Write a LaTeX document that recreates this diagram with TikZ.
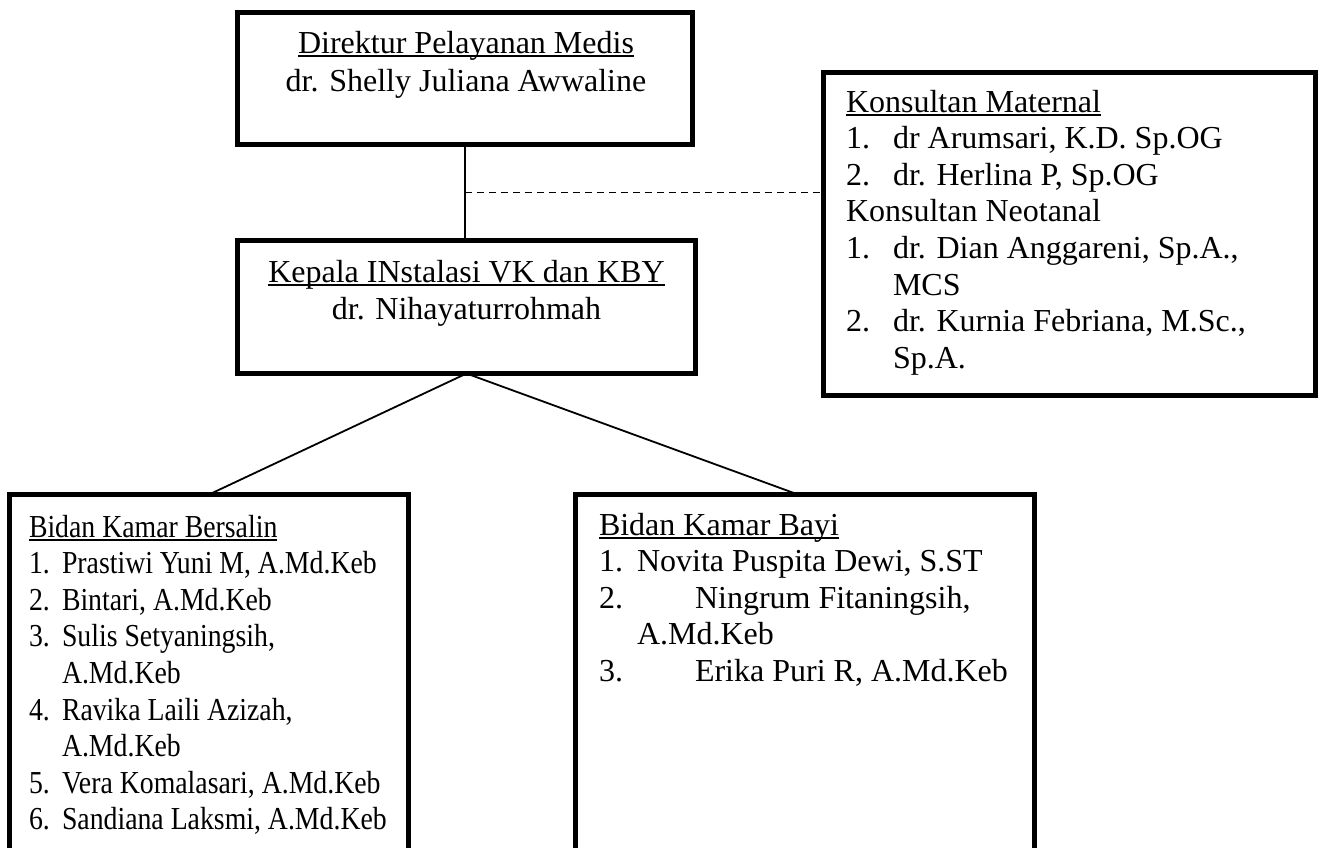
\documentclass[tikz,border=0pt]{standalone}
\usepackage{fontspec}
\setmainfont{Liberation Serif}
\newfontfamily\narrowserif[FakeStretch=0.868]{Liberation Serif}
\usetikzlibrary{calc}
\newcommand\myul[1]{\setbox0\hbox{#1}\rlap{\rule[-4pt]{\wd0}{2pt}}\box0}
\begin{document}
\begin{tikzpicture}[x=1pt,y=-1pt,
  orgbox/.style={draw, rectangle, line width=4.5pt, inner sep=0pt, outer sep=0pt},
  txt/.style={inner sep=0pt, outer sep=0pt, font=\fontsize{32}{36.6}\selectfont},
  ntxt/.style={inner sep=0pt, outer sep=0pt, font=\narrowserif\fontsize{32}{36.6}\selectfont},
  conn/.style={line width=1.8pt},
  dashconn/.style={line width=1.8pt, dash pattern=on 7pt off 5pt}]
\useasboundingbox (0,0) rectangle (1323,847);
\clip (0,0) rectangle (1323,847);

% boxes
\node[orgbox, minimum width=455, minimum height=132] (dir) at (465,78.5) {};
\node[orgbox, minimum width=458, minimum height=133] (kep) at (466.5,307) {};
\node[orgbox, minimum width=492, minimum height=323] (kon) at (1069.5,234) {};
\node[orgbox, minimum width=399, minimum height=420] (bers) at (209,704.5) {};
\node[orgbox, minimum width=459, minimum height=420] (bayi) at (805,704.5) {};

% connectors
\draw[conn] (dir.south) -- (dir.south |- kep.north);
\coordinate (j) at ($(dir.south)!0.5!(dir.south |- kep.north)$);
\draw[dashconn] (j) -- (j -| kon.west);
\draw[conn] (kep.south) -- (bers.north);
\draw[conn] (kep.south) -- ($(bayi.north)+(-7,0)$);

% Direktur
\node[txt, anchor=base] (d1) at (466,53) {\myul{Direktur Pelayanan Medis}};
\node[txt, anchor=base] (d2) at (466,91) {dr. Shelly Juliana Awwaline};

% Kepala
\node[txt, anchor=base] (k1) at (466.5,282) {\myul{Kepala INstalasi VK dan KBY}};
\node[txt, anchor=base] (k2) at (466.5,319) {dr. Nihayaturrohmah};

% Konsultan
\node[txt, anchor=base west] (c1) at (846,112) {\myul{Konsultan Maternal}};
\node[txt, anchor=base west] (c2n) at (846,148.6) {1.};
\node[txt, anchor=base west] (c2) at (893,148.6) {dr Arumsari, K.D. Sp.OG};
\node[txt, anchor=base west] (c3n) at (846,185.2) {2.};
\node[txt, anchor=base west] (c3) at (893,185.2) {dr. Herlina P, Sp.OG};
\node[txt, anchor=base west] (c4) at (846,221.8) {Konsultan Neotanal};
\node[txt, anchor=base west] (c5n) at (846,258.4) {1.};
\node[txt, anchor=base west] (c5) at (893,258.4) {dr. Dian Anggareni, Sp.A.,};
\node[txt, anchor=base west] (c6) at (893,295) {MCS};
\node[txt, anchor=base west] (c7n) at (846,331.6) {2.};
\node[txt, anchor=base west] (c7) at (893,331.6) {dr. Kurnia Febriana, M.Sc.,};
\node[txt, anchor=base west] (c8) at (893,368.2) {Sp.A.};

% Bidan Kamar Bersalin
\node[ntxt, anchor=base west] (b0) at (29,537) {\myul{Bidan Kamar Bersalin}};
\node[ntxt, anchor=base west] (b1n) at (29,573.6) {1.};
\node[ntxt, anchor=base west] (b1) at (62,573.6) {Prastiwi Yuni M, A.Md.Keb};
\node[ntxt, anchor=base west] (b2n) at (29,610.2) {2.};
\node[ntxt, anchor=base west] (b2) at (62,610.2) {Bintari, A.Md.Keb};
\node[ntxt, anchor=base west] (b3n) at (29,646.8) {3.};
\node[ntxt, anchor=base west] (b3) at (62,646.8) {Sulis Setyaningsih,};
\node[ntxt, anchor=base west] (b3b) at (62,683.4) {A.Md.Keb};
\node[ntxt, anchor=base west] (b4n) at (29,720) {4.};
\node[ntxt, anchor=base west] (b4) at (62,720) {Ravika Laili Azizah,};
\node[ntxt, anchor=base west] (b4b) at (62,756.6) {A.Md.Keb};
\node[ntxt, anchor=base west] (b5n) at (29,793.2) {5.};
\node[ntxt, anchor=base west] (b5) at (62,793.2) {Vera Komalasari, A.Md.Keb};
\node[ntxt, anchor=base west] (b6n) at (29,829.8) {6.};
\node[ntxt, anchor=base west] (b6) at (62,829.8) {Sandiana Laksmi, A.Md.Keb};

% Bidan Kamar Bayi
\node[txt, anchor=base west] (y0) at (599,535) {\myul{Bidan Kamar Bayi}};
\node[txt, anchor=base west] (y1n) at (599,571.6) {1.};
\node[txt, anchor=base west] (y1) at (637,571.6) {Novita Puspita Dewi, S.ST};
\node[txt, anchor=base west] (y2n) at (599,608.2) {2.};
\node[txt, anchor=base west] (y2) at (695,608.2) {Ningrum Fitaningsih,};
\node[txt, anchor=base west] (y2b) at (637,644.8) {A.Md.Keb};
\node[txt, anchor=base west] (y3n) at (599,681.4) {3.};
\node[txt, anchor=base west] (y3) at (695,681.4) {Erika Puri R, A.Md.Keb};
\end{tikzpicture}
\end{document}
